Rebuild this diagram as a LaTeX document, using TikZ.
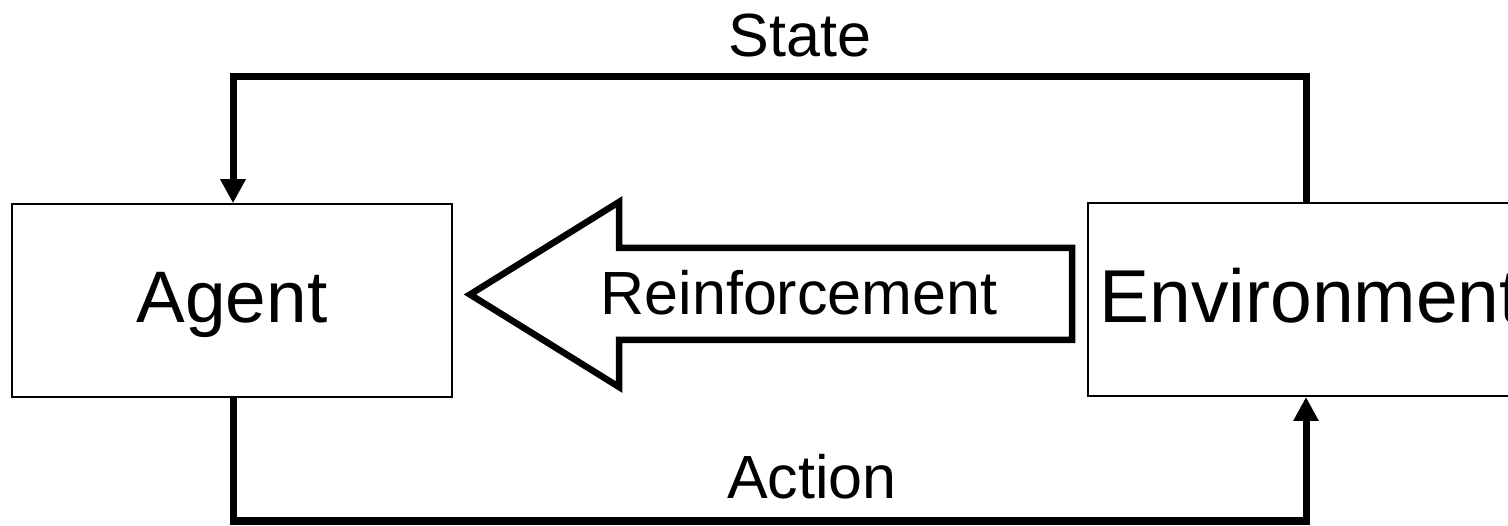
\documentclass[tikz,border=0pt]{standalone}
\usepackage{fontspec}
\setmainfont{Liberation Sans}
\usetikzlibrary{arrows.meta}
\begin{document}
\begin{tikzpicture}[x=1pt,y=1pt,
  block/.style={draw,line width=1.6pt,minimum width=440pt,minimum height=193pt,inner sep=0pt},
  bigtext/.style={font=\fontsize{73}{80}\selectfont},
  label/.style={font=\fontsize{61}{70}\selectfont},
  flow/.style={line width=7pt,-{Triangle[width=24pt,length=24pt]}},
  hollow/.style={draw,line width=6.5pt,line join=miter}]
\clip (0,0) rectangle (1508,525);
\useasboundingbox (0,0) rectangle (1508,525);

% the two blocks
\node[block] (agent) at (232,224.5) {};
\node[block,minimum width=443pt,anchor=south west] (env) at (1087,128) {};
\node[bigtext,anchor=base] at (232,202) {Agent};
\node[bigtext,font=\fontsize{75}{80}\selectfont,anchor=base west] at (1096,202) {Environment};

% state feedback along the top
\coordinate (stR) at (1306,448);
\coordinate (stL) at (233,448);
\draw[flow] (env.north -| stR) -- (stR) -- (stL) -- (agent.north -| stL);
\node[label,anchor=base] at (800,468) {State};

% action along the bottom
\coordinate (acL) at (233,4);
\coordinate (acR) at (1306,4);
\draw[flow] (agent.south -| acL) -- (acL) -- (acR) -- (env.south -| acR);
\node[label,anchor=base] at (812,27) {Action};

% hollow reinforcement arrow
\coordinate (tip) at (470,230.5);
\draw[hollow] (tip) -- (619,323) -- (619,277) -- (1072,277) -- (1072,185)
  -- (619,185) -- (619,138) -- cycle;
\node[label,anchor=base] (reinf) at (799,210) {Reinforcement};
\end{tikzpicture}
\end{document}
